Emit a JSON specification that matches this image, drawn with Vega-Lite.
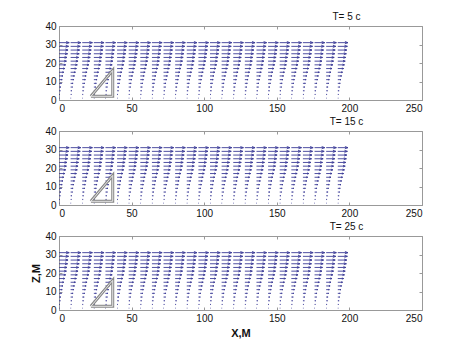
{
"$schema": "https://vega.github.io/schema/vega-lite/v6.json",
"background": "white",
"padding": {"left": 30, "top": 11, "right": 5, "bottom": 5},
"config": {
  "font": "Liberation Sans",
  "view": {"stroke": "#999", "strokeWidth": 1},
  "axis": {"grid": false, "tickSize": -3, "labelPadding": 6, "domainColor": "#999", "tickColor": "#999", "labelFontSize": 10, "labelColor": "#111", "titleFontSize": 11, "titleFontWeight": "bold", "titleColor": "#111"},
  "title": {"fontSize": 10, "fontWeight": "normal", "anchor": "middle", "dx": 106, "dy": 4, "offset": 3, "color": "#111"},
  "concat": {"spacing": 2}
},
"datasets": {
"tri": [{"x":22,"z":2,"o":1},{"x":37,"z":2,"o":2},{"x":37,"z":16,"o":3},{"x":22,"z":2,"o":4}],
"q": [
{"x":0,"z":31,"u":7},{"x":8,"z":31,"u":7},{"x":16,"z":31,"u":7},{"x":24,"z":31,"u":7},{"x":32,"z":31,"u":7},{"x":40,"z":31,"u":7},{"x":48,"z":31,"u":7},{"x":56,"z":31,"u":7},{"x":64,"z":31,"u":7},{"x":72,"z":31,"u":7},{"x":80,"z":31,"u":7},{"x":88,"z":31,"u":7},{"x":96,"z":31,"u":7},{"x":104,"z":31,"u":7},{"x":112,"z":31,"u":7},{"x":120,"z":31,"u":7},{"x":128,"z":31,"u":7},{"x":136,"z":31,"u":7},{"x":144,"z":31,"u":7},{"x":152,"z":31,"u":7},{"x":160,"z":31,"u":7},{"x":168,"z":31,"u":7},{"x":176,"z":31,"u":7},{"x":184,"z":31,"u":7},{"x":192,"z":31,"u":7},
{"x":0,"z":29,"u":6.6},{"x":8,"z":29,"u":6.6},{"x":16,"z":29,"u":6.6},{"x":24,"z":29,"u":6.6},{"x":32,"z":29,"u":6.6},{"x":40,"z":29,"u":6.6},{"x":48,"z":29,"u":6.6},{"x":56,"z":29,"u":6.6},{"x":64,"z":29,"u":6.6},{"x":72,"z":29,"u":6.6},{"x":80,"z":29,"u":6.6},{"x":88,"z":29,"u":6.6},{"x":96,"z":29,"u":6.6},{"x":104,"z":29,"u":6.6},{"x":112,"z":29,"u":6.6},{"x":120,"z":29,"u":6.6},{"x":128,"z":29,"u":6.6},{"x":136,"z":29,"u":6.6},{"x":144,"z":29,"u":6.6},{"x":152,"z":29,"u":6.6},{"x":160,"z":29,"u":6.6},{"x":168,"z":29,"u":6.6},{"x":176,"z":29,"u":6.6},{"x":184,"z":29,"u":6.6},{"x":192,"z":29,"u":6.6},
{"x":0,"z":27,"u":6.2},{"x":8,"z":27,"u":6.2},{"x":16,"z":27,"u":6.2},{"x":24,"z":27,"u":6.2},{"x":32,"z":27,"u":6.2},{"x":40,"z":27,"u":6.2},{"x":48,"z":27,"u":6.2},{"x":56,"z":27,"u":6.2},{"x":64,"z":27,"u":6.2},{"x":72,"z":27,"u":6.2},{"x":80,"z":27,"u":6.2},{"x":88,"z":27,"u":6.2},{"x":96,"z":27,"u":6.2},{"x":104,"z":27,"u":6.2},{"x":112,"z":27,"u":6.2},{"x":120,"z":27,"u":6.2},{"x":128,"z":27,"u":6.2},{"x":136,"z":27,"u":6.2},{"x":144,"z":27,"u":6.2},{"x":152,"z":27,"u":6.2},{"x":160,"z":27,"u":6.2},{"x":168,"z":27,"u":6.2},{"x":176,"z":27,"u":6.2},{"x":184,"z":27,"u":6.2},{"x":192,"z":27,"u":6.2},
{"x":0,"z":25,"u":5.9},{"x":8,"z":25,"u":5.9},{"x":16,"z":25,"u":5.9},{"x":24,"z":25,"u":5.9},{"x":32,"z":25,"u":5.9},{"x":40,"z":25,"u":5.9},{"x":48,"z":25,"u":5.9},{"x":56,"z":25,"u":5.9},{"x":64,"z":25,"u":5.9},{"x":72,"z":25,"u":5.9},{"x":80,"z":25,"u":5.9},{"x":88,"z":25,"u":5.9},{"x":96,"z":25,"u":5.9},{"x":104,"z":25,"u":5.9},{"x":112,"z":25,"u":5.9},{"x":120,"z":25,"u":5.9},{"x":128,"z":25,"u":5.9},{"x":136,"z":25,"u":5.9},{"x":144,"z":25,"u":5.9},{"x":152,"z":25,"u":5.9},{"x":160,"z":25,"u":5.9},{"x":168,"z":25,"u":5.9},{"x":176,"z":25,"u":5.9},{"x":184,"z":25,"u":5.9},{"x":192,"z":25,"u":5.9},
{"x":0,"z":23,"u":5.5},{"x":8,"z":23,"u":5.5},{"x":16,"z":23,"u":5.5},{"x":24,"z":23,"u":5.5},{"x":32,"z":23,"u":5.5},{"x":40,"z":23,"u":5.5},{"x":48,"z":23,"u":5.5},{"x":56,"z":23,"u":5.5},{"x":64,"z":23,"u":5.5},{"x":72,"z":23,"u":5.5},{"x":80,"z":23,"u":5.5},{"x":88,"z":23,"u":5.5},{"x":96,"z":23,"u":5.5},{"x":104,"z":23,"u":5.5},{"x":112,"z":23,"u":5.5},{"x":120,"z":23,"u":5.5},{"x":128,"z":23,"u":5.5},{"x":136,"z":23,"u":5.5},{"x":144,"z":23,"u":5.5},{"x":152,"z":23,"u":5.5},{"x":160,"z":23,"u":5.5},{"x":168,"z":23,"u":5.5},{"x":176,"z":23,"u":5.5},{"x":184,"z":23,"u":5.5},{"x":192,"z":23,"u":5.5},
{"x":0,"z":21,"u":5.1},{"x":8,"z":21,"u":5.1},{"x":16,"z":21,"u":5.1},{"x":24,"z":21,"u":5.1},{"x":32,"z":21,"u":5.1},{"x":40,"z":21,"u":5.1},{"x":48,"z":21,"u":5.1},{"x":56,"z":21,"u":5.1},{"x":64,"z":21,"u":5.1},{"x":72,"z":21,"u":5.1},{"x":80,"z":21,"u":5.1},{"x":88,"z":21,"u":5.1},{"x":96,"z":21,"u":5.1},{"x":104,"z":21,"u":5.1},{"x":112,"z":21,"u":5.1},{"x":120,"z":21,"u":5.1},{"x":128,"z":21,"u":5.1},{"x":136,"z":21,"u":5.1},{"x":144,"z":21,"u":5.1},{"x":152,"z":21,"u":5.1},{"x":160,"z":21,"u":5.1},{"x":168,"z":21,"u":5.1},{"x":176,"z":21,"u":5.1},{"x":184,"z":21,"u":5.1},{"x":192,"z":21,"u":5.1},
{"x":0,"z":19,"u":4.6},{"x":8,"z":19,"u":4.6},{"x":16,"z":19,"u":4.6},{"x":24,"z":19,"u":4.6},{"x":32,"z":19,"u":4.6},{"x":40,"z":19,"u":4.6},{"x":48,"z":19,"u":4.6},{"x":56,"z":19,"u":4.6},{"x":64,"z":19,"u":4.6},{"x":72,"z":19,"u":4.6},{"x":80,"z":19,"u":4.6},{"x":88,"z":19,"u":4.6},{"x":96,"z":19,"u":4.6},{"x":104,"z":19,"u":4.6},{"x":112,"z":19,"u":4.6},{"x":120,"z":19,"u":4.6},{"x":128,"z":19,"u":4.6},{"x":136,"z":19,"u":4.6},{"x":144,"z":19,"u":4.6},{"x":152,"z":19,"u":4.6},{"x":160,"z":19,"u":4.6},{"x":168,"z":19,"u":4.6},{"x":176,"z":19,"u":4.6},{"x":184,"z":19,"u":4.6},{"x":192,"z":19,"u":4.6},
{"x":0,"z":17,"u":4.0},{"x":8,"z":17,"u":4.0},{"x":16,"z":17,"u":4.0},{"x":24,"z":17,"u":4.0},{"x":32,"z":17,"u":4.0},{"x":40,"z":17,"u":4.0},{"x":48,"z":17,"u":4.0},{"x":56,"z":17,"u":4.0},{"x":64,"z":17,"u":4.0},{"x":72,"z":17,"u":4.0},{"x":80,"z":17,"u":4.0},{"x":88,"z":17,"u":4.0},{"x":96,"z":17,"u":4.0},{"x":104,"z":17,"u":4.0},{"x":112,"z":17,"u":4.0},{"x":120,"z":17,"u":4.0},{"x":128,"z":17,"u":4.0},{"x":136,"z":17,"u":4.0},{"x":144,"z":17,"u":4.0},{"x":152,"z":17,"u":4.0},{"x":160,"z":17,"u":4.0},{"x":168,"z":17,"u":4.0},{"x":176,"z":17,"u":4.0},{"x":184,"z":17,"u":4.0},{"x":192,"z":17,"u":4.0},
{"x":0,"z":15,"u":3.3},{"x":8,"z":15,"u":3.3},{"x":16,"z":15,"u":3.3},{"x":24,"z":15,"u":3.3},{"x":32,"z":15,"u":3.3},{"x":40,"z":15,"u":3.3},{"x":48,"z":15,"u":3.3},{"x":56,"z":15,"u":3.3},{"x":64,"z":15,"u":3.3},{"x":72,"z":15,"u":3.3},{"x":80,"z":15,"u":3.3},{"x":88,"z":15,"u":3.3},{"x":96,"z":15,"u":3.3},{"x":104,"z":15,"u":3.3},{"x":112,"z":15,"u":3.3},{"x":120,"z":15,"u":3.3},{"x":128,"z":15,"u":3.3},{"x":136,"z":15,"u":3.3},{"x":144,"z":15,"u":3.3},{"x":152,"z":15,"u":3.3},{"x":160,"z":15,"u":3.3},{"x":168,"z":15,"u":3.3},{"x":176,"z":15,"u":3.3},{"x":184,"z":15,"u":3.3},{"x":192,"z":15,"u":3.3},
{"x":0,"z":13,"u":2.7},{"x":8,"z":13,"u":2.7},{"x":16,"z":13,"u":2.7},{"x":24,"z":13,"u":2.7},{"x":32,"z":13,"u":2.7},{"x":40,"z":13,"u":2.7},{"x":48,"z":13,"u":2.7},{"x":56,"z":13,"u":2.7},{"x":64,"z":13,"u":2.7},{"x":72,"z":13,"u":2.7},{"x":80,"z":13,"u":2.7},{"x":88,"z":13,"u":2.7},{"x":96,"z":13,"u":2.7},{"x":104,"z":13,"u":2.7},{"x":112,"z":13,"u":2.7},{"x":120,"z":13,"u":2.7},{"x":128,"z":13,"u":2.7},{"x":136,"z":13,"u":2.7},{"x":144,"z":13,"u":2.7},{"x":152,"z":13,"u":2.7},{"x":160,"z":13,"u":2.7},{"x":168,"z":13,"u":2.7},{"x":176,"z":13,"u":2.7},{"x":184,"z":13,"u":2.7},{"x":192,"z":13,"u":2.7},
{"x":0,"z":11,"u":2.2},{"x":8,"z":11,"u":2.2},{"x":16,"z":11,"u":2.2},{"x":24,"z":11,"u":2.2},{"x":32,"z":11,"u":2.2},{"x":40,"z":11,"u":2.2},{"x":48,"z":11,"u":2.2},{"x":56,"z":11,"u":2.2},{"x":64,"z":11,"u":2.2},{"x":72,"z":11,"u":2.2},{"x":80,"z":11,"u":2.2},{"x":88,"z":11,"u":2.2},{"x":96,"z":11,"u":2.2},{"x":104,"z":11,"u":2.2},{"x":112,"z":11,"u":2.2},{"x":120,"z":11,"u":2.2},{"x":128,"z":11,"u":2.2},{"x":136,"z":11,"u":2.2},{"x":144,"z":11,"u":2.2},{"x":152,"z":11,"u":2.2},{"x":160,"z":11,"u":2.2},{"x":168,"z":11,"u":2.2},{"x":176,"z":11,"u":2.2},{"x":184,"z":11,"u":2.2},{"x":192,"z":11,"u":2.2},
{"x":0,"z":9,"u":1.7},{"x":8,"z":9,"u":1.7},{"x":16,"z":9,"u":1.7},{"x":24,"z":9,"u":1.7},{"x":32,"z":9,"u":1.7},{"x":40,"z":9,"u":1.7},{"x":48,"z":9,"u":1.7},{"x":56,"z":9,"u":1.7},{"x":64,"z":9,"u":1.7},{"x":72,"z":9,"u":1.7},{"x":80,"z":9,"u":1.7},{"x":88,"z":9,"u":1.7},{"x":96,"z":9,"u":1.7},{"x":104,"z":9,"u":1.7},{"x":112,"z":9,"u":1.7},{"x":120,"z":9,"u":1.7},{"x":128,"z":9,"u":1.7},{"x":136,"z":9,"u":1.7},{"x":144,"z":9,"u":1.7},{"x":152,"z":9,"u":1.7},{"x":160,"z":9,"u":1.7},{"x":168,"z":9,"u":1.7},{"x":176,"z":9,"u":1.7},{"x":184,"z":9,"u":1.7},{"x":192,"z":9,"u":1.7},
{"x":0,"z":7,"u":1.3},{"x":8,"z":7,"u":1.3},{"x":16,"z":7,"u":1.3},{"x":24,"z":7,"u":1.3},{"x":32,"z":7,"u":1.3},{"x":40,"z":7,"u":1.3},{"x":48,"z":7,"u":1.3},{"x":56,"z":7,"u":1.3},{"x":64,"z":7,"u":1.3},{"x":72,"z":7,"u":1.3},{"x":80,"z":7,"u":1.3},{"x":88,"z":7,"u":1.3},{"x":96,"z":7,"u":1.3},{"x":104,"z":7,"u":1.3},{"x":112,"z":7,"u":1.3},{"x":120,"z":7,"u":1.3},{"x":128,"z":7,"u":1.3},{"x":136,"z":7,"u":1.3},{"x":144,"z":7,"u":1.3},{"x":152,"z":7,"u":1.3},{"x":160,"z":7,"u":1.3},{"x":168,"z":7,"u":1.3},{"x":176,"z":7,"u":1.3},{"x":184,"z":7,"u":1.3},{"x":192,"z":7,"u":1.3},
{"x":0,"z":5,"u":0.9},{"x":8,"z":5,"u":0.9},{"x":16,"z":5,"u":0.9},{"x":24,"z":5,"u":0.9},{"x":32,"z":5,"u":0.9},{"x":40,"z":5,"u":0.9},{"x":48,"z":5,"u":0.9},{"x":56,"z":5,"u":0.9},{"x":64,"z":5,"u":0.9},{"x":72,"z":5,"u":0.9},{"x":80,"z":5,"u":0.9},{"x":88,"z":5,"u":0.9},{"x":96,"z":5,"u":0.9},{"x":104,"z":5,"u":0.9},{"x":112,"z":5,"u":0.9},{"x":120,"z":5,"u":0.9},{"x":128,"z":5,"u":0.9},{"x":136,"z":5,"u":0.9},{"x":144,"z":5,"u":0.9},{"x":152,"z":5,"u":0.9},{"x":160,"z":5,"u":0.9},{"x":168,"z":5,"u":0.9},{"x":176,"z":5,"u":0.9},{"x":184,"z":5,"u":0.9},{"x":192,"z":5,"u":0.9},
{"x":0,"z":3,"u":0.6},{"x":8,"z":3,"u":0.6},{"x":16,"z":3,"u":0.6},{"x":24,"z":3,"u":0.6},{"x":32,"z":3,"u":0.6},{"x":40,"z":3,"u":0.6},{"x":48,"z":3,"u":0.6},{"x":56,"z":3,"u":0.6},{"x":64,"z":3,"u":0.6},{"x":72,"z":3,"u":0.6},{"x":80,"z":3,"u":0.6},{"x":88,"z":3,"u":0.6},{"x":96,"z":3,"u":0.6},{"x":104,"z":3,"u":0.6},{"x":112,"z":3,"u":0.6},{"x":120,"z":3,"u":0.6},{"x":128,"z":3,"u":0.6},{"x":136,"z":3,"u":0.6},{"x":144,"z":3,"u":0.6},{"x":152,"z":3,"u":0.6},{"x":160,"z":3,"u":0.6},{"x":168,"z":3,"u":0.6},{"x":176,"z":3,"u":0.6},{"x":184,"z":3,"u":0.6},{"x":192,"z":3,"u":0.6},
{"x":0,"z":1,"u":0.3},{"x":8,"z":1,"u":0.3},{"x":16,"z":1,"u":0.3},{"x":24,"z":1,"u":0.3},{"x":32,"z":1,"u":0.3},{"x":40,"z":1,"u":0.3},{"x":48,"z":1,"u":0.3},{"x":56,"z":1,"u":0.3},{"x":64,"z":1,"u":0.3},{"x":72,"z":1,"u":0.3},{"x":80,"z":1,"u":0.3},{"x":88,"z":1,"u":0.3},{"x":96,"z":1,"u":0.3},{"x":104,"z":1,"u":0.3},{"x":112,"z":1,"u":0.3},{"x":120,"z":1,"u":0.3},{"x":128,"z":1,"u":0.3},{"x":136,"z":1,"u":0.3},{"x":144,"z":1,"u":0.3},{"x":152,"z":1,"u":0.3},{"x":160,"z":1,"u":0.3},{"x":168,"z":1,"u":0.3},{"x":176,"z":1,"u":0.3},{"x":184,"z":1,"u":0.3},{"x":192,"z":1,"u":0.3}
]
},
"vconcat": [
{
 "title": "T= 5 c",
 "width": 363, "height": 74,
 "layer": [
  {"data": {"name": "q"}, "mark": {"type": "point", "shape": "M0,0L2,0M1.4,-0.22L2,0L1.4,0.22", "filled": false, "stroke": "#3a3a96", "strokeWidth": 0.9, "opacity": 1},
   "encoding": {
    "x": {"field": "x", "type": "quantitative", "scale": {"domain": [0, 250], "nice": false}, "axis": {"values": [0, 50, 100, 150, 200, 250], "title": null}},
    "y": {"field": "z", "type": "quantitative", "scale": {"domain": [0, 40], "nice": false}, "axis": {"values": [0, 10, 20, 30, 40], "title": null}},
    "size": {"field": "u", "type": "quantitative", "scale": {"type": "pow", "exponent": 2, "domain": [0, 7], "range": [0, 104]}, "legend": null}}},
  {"data": {"name": "tri"}, "mark": {"type": "line", "stroke": "#888", "strokeWidth": 3},
   "encoding": {
    "x": {"field": "x", "type": "quantitative", "axis": {"orient": "top", "labels": false, "domain": false, "values": [0, 50, 100, 150, 200, 250], "title": null}},
    "y": {"field": "z", "type": "quantitative", "axis": {"orient": "right", "labels": false, "domain": false, "values": [0, 10, 20, 30, 40], "title": null}},
    "order": {"field": "o"}}},
  {"data": {"name": "tri"}, "mark": {"type": "line", "stroke": "#e6e6e6", "strokeWidth": 1},
   "encoding": {
    "x": {"field": "x", "type": "quantitative", "axis": null},
    "y": {"field": "z", "type": "quantitative", "axis": null},
    "order": {"field": "o"}}}
 ],
 "resolve": {"axis": {"x": "independent", "y": "independent"}}
},
{
 "title": "T= 15 c",
 "width": 363, "height": 74,
 "layer": [
  {"data": {"name": "q"}, "mark": {"type": "point", "shape": "M0,0L2,0M1.4,-0.22L2,0L1.4,0.22", "filled": false, "stroke": "#3a3a96", "strokeWidth": 0.9, "opacity": 1},
   "encoding": {
    "x": {"field": "x", "type": "quantitative", "scale": {"domain": [0, 250], "nice": false}, "axis": {"values": [0, 50, 100, 150, 200, 250], "title": null}},
    "y": {"field": "z", "type": "quantitative", "scale": {"domain": [0, 40], "nice": false}, "axis": {"values": [0, 10, 20, 30, 40], "title": null}},
    "size": {"field": "u", "type": "quantitative", "scale": {"type": "pow", "exponent": 2, "domain": [0, 7], "range": [0, 104]}, "legend": null}}},
  {"data": {"name": "tri"}, "mark": {"type": "line", "stroke": "#888", "strokeWidth": 3},
   "encoding": {
    "x": {"field": "x", "type": "quantitative", "axis": {"orient": "top", "labels": false, "domain": false, "values": [0, 50, 100, 150, 200, 250], "title": null}},
    "y": {"field": "z", "type": "quantitative", "axis": {"orient": "right", "labels": false, "domain": false, "values": [0, 10, 20, 30, 40], "title": null}},
    "order": {"field": "o"}}},
  {"data": {"name": "tri"}, "mark": {"type": "line", "stroke": "#e6e6e6", "strokeWidth": 1},
   "encoding": {
    "x": {"field": "x", "type": "quantitative", "axis": null},
    "y": {"field": "z", "type": "quantitative", "axis": null},
    "order": {"field": "o"}}}
 ],
 "resolve": {"axis": {"x": "independent", "y": "independent"}}
},
{
 "title": "T= 25 c",
 "width": 363, "height": 74,
 "layer": [
  {"data": {"name": "q"}, "mark": {"type": "point", "shape": "M0,0L2,0M1.4,-0.22L2,0L1.4,0.22", "filled": false, "stroke": "#3a3a96", "strokeWidth": 0.9, "opacity": 1},
   "encoding": {
    "x": {"field": "x", "type": "quantitative", "scale": {"domain": [0, 250], "nice": false}, "axis": {"values": [0, 50, 100, 150, 200, 250], "title": "X,M", "titlePadding": 4}},
    "y": {"field": "z", "type": "quantitative", "scale": {"domain": [0, 40], "nice": false}, "axis": {"values": [0, 10, 20, 30, 40], "title": "Z,M", "titlePadding": 3}},
    "size": {"field": "u", "type": "quantitative", "scale": {"type": "pow", "exponent": 2, "domain": [0, 7], "range": [0, 104]}, "legend": null}}},
  {"data": {"name": "tri"}, "mark": {"type": "line", "stroke": "#888", "strokeWidth": 3},
   "encoding": {
    "x": {"field": "x", "type": "quantitative", "axis": {"orient": "top", "labels": false, "domain": false, "values": [0, 50, 100, 150, 200, 250], "title": null}},
    "y": {"field": "z", "type": "quantitative", "axis": {"orient": "right", "labels": false, "domain": false, "values": [0, 10, 20, 30, 40], "title": null}},
    "order": {"field": "o"}}},
  {"data": {"name": "tri"}, "mark": {"type": "line", "stroke": "#e6e6e6", "strokeWidth": 1},
   "encoding": {
    "x": {"field": "x", "type": "quantitative", "axis": null},
    "y": {"field": "z", "type": "quantitative", "axis": null},
    "order": {"field": "o"}}}
 ],
 "resolve": {"axis": {"x": "independent", "y": "independent"}}
}
]
}
